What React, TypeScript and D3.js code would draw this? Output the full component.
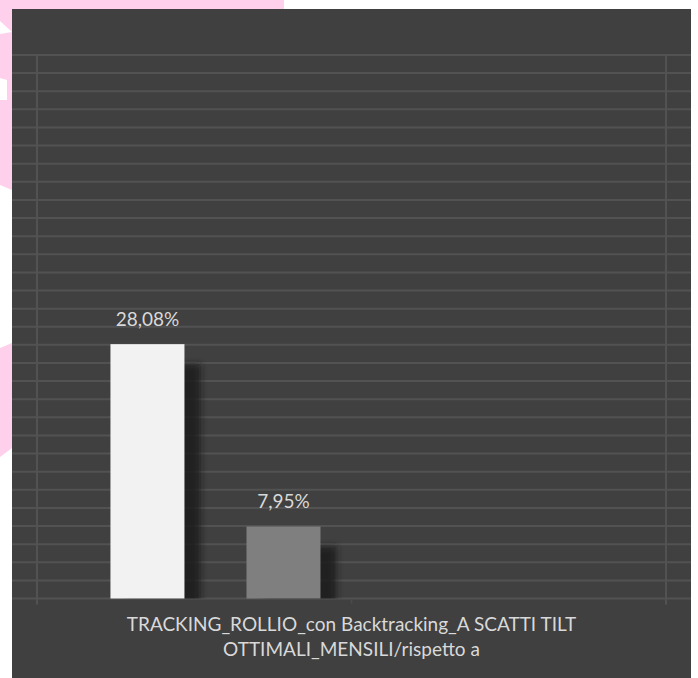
import React from 'react';
import * as d3 from 'd3';

// ---- data ----
const category = 'TRACKING_ROLLIO_con Backtracking_A SCATTI TILT OTTIMALI_MENSILI/rispetto a';
const categoryLines = ['TRACKING_ROLLIO_con Backtracking_A SCATTI TILT', 'OTTIMALI_MENSILI/rispetto a'];
const seriesNames = ['Serie 1', 'Serie 2', 'Serie 3', 'Serie 4'];
const seriesValues: (number | null)[] = [0.2808, 0.0795, null, null];
const seriesColors = ['#f2f2f2', '#7f7f7f', '#a5a5a5', '#595959'];
const yMax = 0.6;
const yStep = 0.02;

const itLocale = d3.formatLocale({ decimal: ',', thousands: '.', grouping: [3], currency: ['', '€'] });
const fmt = itLocale.format('.2%');

const W = 698;
const H = 678;
const panel = { x: 12, y: 9, w: 679, h: 669 };
const plot = { left: 37, right: 666, top: 55, bottom: 598.5 };
const FONT = 'Lato, "Open Sans", sans-serif';

export default function App() {
  const y = d3.scaleLinear().domain([0, yMax]).range([plot.bottom, plot.top]);
  const x0 = d3.scaleBand<string>().domain([category]).range([plot.left, plot.right]);
  const x1 = d3
    .scaleBand<string>()
    .domain(seriesNames)
    .range([x0(category)!, x0(category)! + x0.bandwidth()])
    .paddingInner(0.456)
    .paddingOuter(0.54);
  const nTicks = Math.round(yMax / yStep);
  const ticks = d3.range(0, nTicks + 1).map((i) => y(i * yStep));
  const cx = x0(category)! + x0.bandwidth() / 2;

  const bars = seriesNames
    .map((s, i) => ({ s, v: seriesValues[i], c: seriesColors[i] }))
    .filter((d) => d.v !== null) as { s: string; v: number; c: string }[];

  return (
    <svg
      width={W}
      height={H}
      style={{ position: 'absolute', left: 0, top: 0, display: 'block' }}
      xmlns="http://www.w3.org/2000/svg"
    >
      <defs>
        <filter id="shadow" x="-50%" y="-50%" width="200%" height="200%">
          <feGaussianBlur stdDeviation="3" />
        </filter>
        <clipPath id="plotClip">
          <rect x={panel.x} y={plot.top} width={panel.w} height={plot.bottom - plot.top} />
        </clipPath>
      </defs>
      <rect x={0} y={0} width={W} height={H} fill="#ffffff" />
      {/* watermark shapes */}
      <polygon points="0,0 284,0 284,9 0,9" fill="#ffd0ec" />
      <polygon points="0,0 12,0 12,190 0,185" fill="#ffd0ec" />
      <polygon points="0,21 12,32 0,34" fill="#ffffff" />
      <polygon points="0,78 7,80 7,100 0,100" fill="#ffffff" />
      <polygon points="0,348 12,343 12,448 0,457" fill="#ffd0ec" />

      <rect x={panel.x} y={panel.y} width={panel.w} height={panel.h} fill="#404040" />

      {/* horizontal gridlines */}
      {ticks.map((t, i) => (
        <line key={i} x1={panel.x} x2={panel.x + panel.w} y1={t} y2={t} stroke="#525252" strokeWidth={2} />
      ))}
      {/* vertical boundary lines */}
      {[plot.left, plot.right].map((xv, i) => (
        <line key={i} x1={xv} x2={xv} y1={plot.top - 1} y2={plot.bottom + 6} stroke="#525252" strokeWidth={2} />
      ))}
      <line x1={cx} x2={cx} y1={plot.bottom} y2={plot.bottom + 5} stroke="#4c4c4c" strokeWidth={1.5} />

      {/* shadows */}
      <g clipPath="url(#plotClip)">
        {bars.map((d) => (
          <rect
            key={d.s}
            x={x1(d.s)! + 16}
            y={y(d.v) + 20}
            width={x1.bandwidth()}
            height={plot.bottom - y(d.v)}
            fill="#1e1e1e"
            opacity={0.85}
            filter="url(#shadow)"
          />
        ))}
      </g>

      {/* bars */}
      {bars.map((d) => (
        <rect key={d.s} x={x1(d.s)!} y={y(d.v)} width={x1.bandwidth()} height={plot.bottom - y(d.v)} fill={d.c} />
      ))}

      {/* value labels */}
      {bars.map((d) => (
        <text
          key={d.s}
          x={x1(d.s)! + x1.bandwidth() / 2}
          y={y(d.v) - 18}
          textAnchor="middle"
          fontFamily={FONT}
          fontSize={19}
          fill="#d9d9d9"
        >
          {fmt(d.v)}
        </text>
      ))}

      {/* category label */}
      {categoryLines.map((l, i) => (
        <text key={i} x={cx} y={631 + i * 25} textAnchor="middle" fontFamily={FONT} fontSize={19} fill="#d9d9d9">
          {l}
        </text>
      ))}
    </svg>
  );
}
